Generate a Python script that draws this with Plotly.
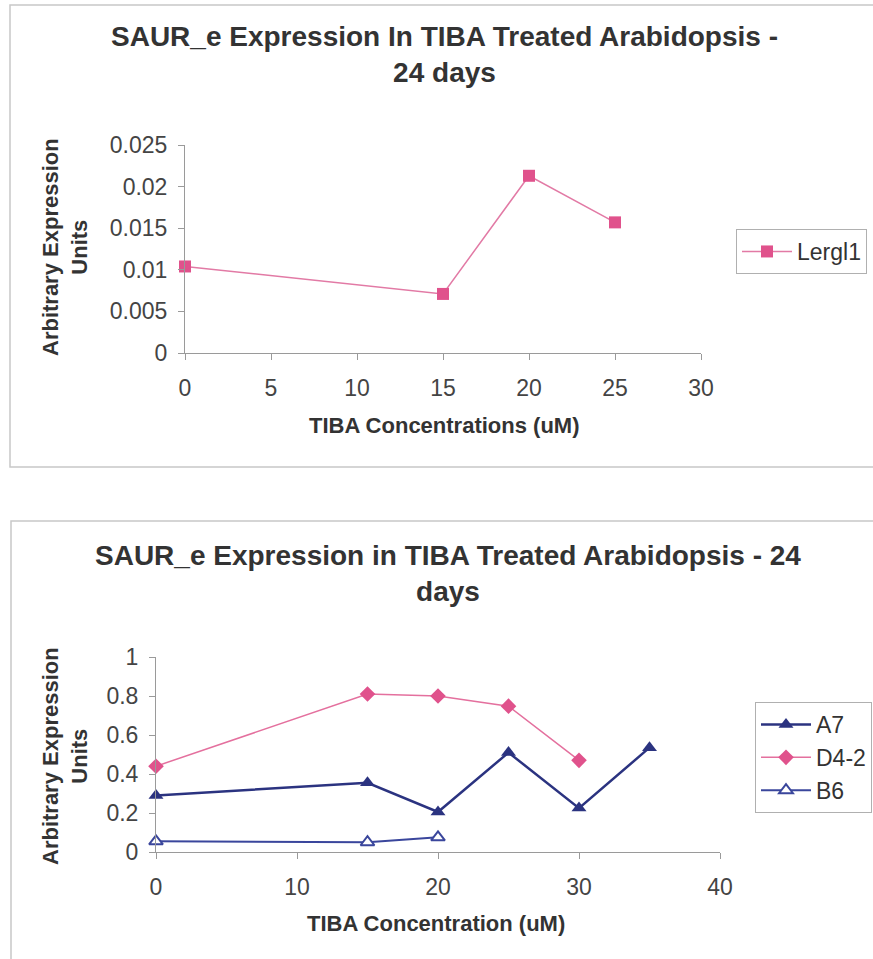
import plotly.graph_objects as go

# data
top_x = [0, 15, 20, 25]
lergl1 = [0.0104, 0.0071, 0.0213, 0.0157]

bottom_x_a7 = [0, 15, 20, 25, 30, 35]
a7 = [0.29, 0.355, 0.205, 0.51, 0.225, 0.535]
bottom_x_d42 = [0, 15, 20, 25, 30]
d42 = [0.44, 0.81, 0.80, 0.748, 0.47]
bottom_x_b6 = [0, 15, 20]
b6 = [0.055, 0.05, 0.075]

W, H = 873, 959
FONT = "Liberation Sans, Arial, sans-serif"
PINK = "#E0528C"
NAVY = "#2B3380"
BLUE = "#3A469C"


def px_x(v):
    return v / W


def px_y(v):
    return 1 - v / H


fig = go.Figure()

fig.add_trace(go.Scatter(
    x=top_x, y=lergl1, name="Lergl1", mode="lines+markers",
    line=dict(color="#E27AA5", width=1.5),
    marker=dict(symbol="square", size=12, color=PINK),
    xaxis="x", yaxis="y", legend="legend", cliponaxis=False,
))

fig.add_trace(go.Scatter(
    x=bottom_x_a7, y=a7, name="A7", mode="lines+markers",
    line=dict(color=NAVY, width=2.5),
    marker=dict(symbol="triangle-up", size=13, color=NAVY),
    xaxis="x2", yaxis="y2", legend="legend2", cliponaxis=False,
))
fig.add_trace(go.Scatter(
    x=bottom_x_d42, y=d42, name="D4-2", mode="lines+markers",
    line=dict(color="#E4709E", width=1.5),
    marker=dict(symbol="diamond", size=12, color=PINK),
    xaxis="x2", yaxis="y2", legend="legend2", cliponaxis=False,
))
fig.add_trace(go.Scatter(
    x=bottom_x_b6, y=b6, name="B6", mode="lines+markers",
    line=dict(color=BLUE, width=2),
    marker=dict(symbol="triangle-up", size=12, color="white",
                line=dict(color=BLUE, width=2)),
    xaxis="x2", yaxis="y2", legend="legend2", cliponaxis=False,
))

axis_style = dict(
    showline=True, linecolor="#9a9a9a", linewidth=1,
    ticks="outside", tickcolor="#9a9a9a", ticklen=6,
    showgrid=False, zeroline=False, automargin=False,
    tickfont=dict(family=FONT, size=23, color="#444444"),
)

legend_style = dict(
    xanchor="left", yanchor="top", bordercolor="#b0b0b0", borderwidth=1,
    bgcolor="white", itemwidth=50,
    font=dict(family=FONT, size=23, color="#333333"),
)

fig.update_layout(
    width=W, height=H, autosize=False,
    margin=dict(l=0, r=0, t=0, b=0, autoexpand=False),
    paper_bgcolor="white", plot_bgcolor="white",
    font=dict(family=FONT, color="#333333"),
    xaxis=dict(domain=[px_x(185), px_x(701)], range=[0, 30], dtick=5,
               anchor="y", ticklabelstandoff=8, **axis_style),
    yaxis=dict(domain=[px_y(353), px_y(145)], range=[0, 0.025], dtick=0.005,
               anchor="x", ticklabelstandoff=6, **axis_style),
    xaxis2=dict(domain=[px_x(156), px_x(720)], range=[0, 40], dtick=10,
                anchor="y2", ticklabelstandoff=8, **axis_style),
    yaxis2=dict(domain=[px_y(852), px_y(657)], range=[0, 1], dtick=0.2,
                anchor="x2", ticklabelstandoff=6, **axis_style),
    legend=dict(x=px_x(736), y=px_y(229), **legend_style),
    legend2=dict(x=px_x(755), y=px_y(702), **legend_style),
    showlegend=True,
)

# chart frames
fig.add_shape(type="rect", xref="paper", yref="paper",
              x0=px_x(10), x1=px_x(900), y0=px_y(467), y1=px_y(5),
              line=dict(color="#c8c8c8", width=1.5))
fig.add_shape(type="rect", xref="paper", yref="paper",
              x0=px_x(11), x1=px_x(900), y0=px_y(990), y1=px_y(521),
              line=dict(color="#c8c8c8", width=1.5))

title_font = dict(family=FONT, size=28, color="#333333")
axis_title_font = dict(family=FONT, size=22, color="#333333")
centered = dict(xref="paper", yref="paper", xanchor="center", yanchor="middle",
                showarrow=False, align="center")

# titles
fig.add_annotation(x=px_x(445), y=px_y(54),
                   text="<b>SAUR_e Expression In TIBA Treated Arabidopsis -<br>24 days</b>",
                   font=title_font, **centered)
fig.add_annotation(x=px_x(448), y=px_y(573),
                   text="<b>SAUR_e Expression in TIBA Treated Arabidopsis - 24<br>days</b>",
                   font=title_font, **centered)

# axis titles
fig.add_annotation(x=px_x(445), y=px_y(425), text="<b>TIBA Concentrations (uM)</b>",
                   font=axis_title_font, **centered)
fig.add_annotation(x=px_x(436), y=px_y(923), text="<b>TIBA Concentration (uM)</b>",
                   font=axis_title_font, **centered)
fig.add_annotation(x=px_x(65), y=px_y(247), text="<b>Arbitrary Expression<br>Units</b>",
                   textangle=-90, font=axis_title_font, **centered)
fig.add_annotation(x=px_x(65), y=px_y(756), text="<b>Arbitrary Expression<br>Units</b>",
                   textangle=-90, font=axis_title_font, **centered)

# drop the page's default body margin so the figure sits at the window corner
fig.write_html("out.html", config={"displayModeBar": False},
               post_script="document.body.style.margin = '0';")
